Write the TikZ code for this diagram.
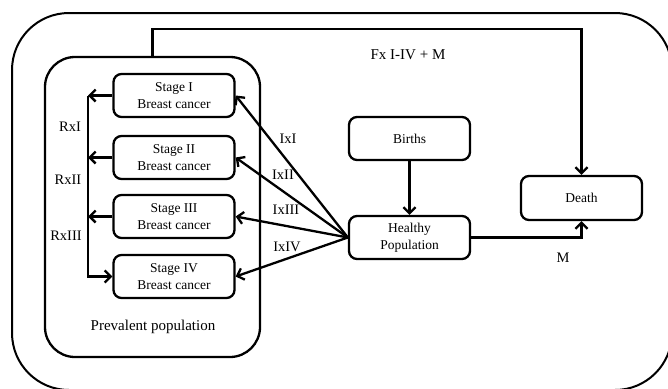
\documentclass[tikz,border=0pt]{standalone}
\usepackage{fontspec}
\setmainfont{Liberation Serif}
\usetikzlibrary{arrows.meta}
\begin{document}
\begin{tikzpicture}[x=1pt,y=-1pt,
  box/.style={draw,line width=2.3pt,rounded corners=8pt,minimum width=121pt,minimum height=43pt,
    align=center,font=\fontsize{13.5}{17}\selectfont,inner sep=0pt},
  lbl/.style={font=\fontsize{14.5}{17}\selectfont,inner sep=0pt},
  conn/.style={line width=2.3pt},
  arr/.style={conn,-{Straight Barb[length=6pt,width=12pt]}}]
\useasboundingbox (0,0) rectangle (668,388);
\clip (0,0) rectangle (668,388);
\draw[line width=2pt,rounded corners=57pt] (12,13) rectangle (672,390);
\node[draw,line width=2.3pt,rounded corners=30pt,minimum width=215pt,minimum height=300pt,inner sep=0pt] (prev) at (152.5,207) {};
\node[lbl,font=\fontsize{15}{17}\selectfont] (prevlbl) at (153,327) {Prevalent population};
\node[box] (s1) at (174,95.5) {Stage I\\Breast cancer};
\node[box] (s2) at (174,157.5) {Stage II\\Breast cancer};
\node[box] (s3) at (174,216.5) {Stage III\\Breast cancer};
\node[box] (s4) at (174,276.5) {Stage IV\\Breast cancer};
\node[box] (births) at (409.5,138.5) {Births};
\node[box] (healthy) at (409.5,237.5) {Healthy\\Population};
\node[box,minimum height=44pt] (death) at (581.5,198) {Death};
\coordinate (rx) at (88,0);
\coordinate (fxtop) at (581.5,29);
% Rx arrows
\draw[arr] (s1.west) -- (s1.west -| rx);
\draw[arr] (s2.west) -- (s2.west -| rx);
\draw[arr] (s3.west) -- (s3.west -| rx);
\draw[arr] (s1.west -| rx) -- (s4.west -| rx) -- (s4.west);
% Ix arrows
\draw[arr] (healthy.west) -- (s1.east);
\draw[arr] (healthy.west) -- (s2.east);
\draw[arr] (healthy.west) -- (s3.east);
\draw[arr] (healthy.west) -- (s4.east);
% others
\draw[arr] (births.south) -- (healthy.north);
\draw[arr] (healthy.east) -| (death.south);
\draw[arr] (prev.north) |- (fxtop) -- (death.north);
% labels
\node[lbl] (rxi) at (70,127) {RxI};
\node[lbl] (rxii) at (68,180) {RxII};
\node[lbl] (rxiii) at (66,236) {RxIII};
\node[lbl] (ixi) at (288,139) {IxI};
\node[lbl] (ixii) at (283,175) {IxII};
\node[lbl] (ixiii) at (286,210) {IxIII};
\node[lbl] (ixiv) at (287,247) {IxIV};
\node[lbl,font=\fontsize{15}{17}\selectfont] (fx) at (408,55) {Fx I-IV + M};
\node[lbl] (m) at (563,258) {M};
\end{tikzpicture}
\end{document}
